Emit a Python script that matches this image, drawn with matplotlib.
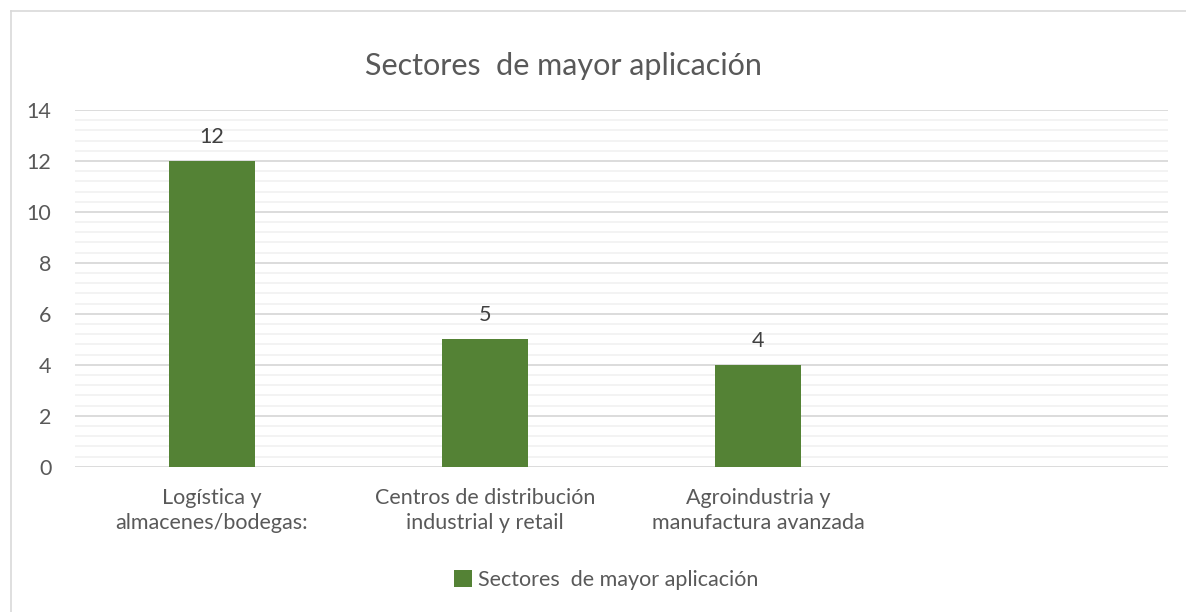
import matplotlib
matplotlib.use("Agg")
import matplotlib.pyplot as plt
from matplotlib.lines import Line2D
from matplotlib.patches import Patch
import numpy as np

categories = ["Logística y\nalmacenes/bodegas:", "Centros de distribución\nindustrial y retail",
              "Agroindustria y\nmanufactura avanzada", ""]
values = [12, 5, 4, None]
series_name = "Sectores  de mayor aplicación"
title = "Sectores  de mayor aplicación"
y_ticks = [0, 2, 4, 6, 8, 10, 12, 14]

BAR = "#548235"
TXT = "#595959"
FONT = "Lato"
FS = 15.5

plt.rcParams['font.family'] = [FONT, 'DejaVu Sans']

W, H = 1186, 612
fig = plt.figure(figsize=(W / 100, H / 100), dpi=100)
fig.patch.set_facecolor("white")

# chart border (top and left visible)
fig.add_artist(Line2D([10.5 / W, 10.5 / W], [0, 1 - 11 / H], transform=fig.transFigure, color="#D9D9D9", lw=1.2))
fig.add_artist(Line2D([10.5 / W, 1], [1 - 11 / H, 1 - 11 / H], transform=fig.transFigure, color="#D9D9D9", lw=1.2))

left, right, top, bottom = 75, 1168, 110, 466.7
ax = fig.add_axes([left / W, 1 - bottom / H, (right - left) / W, (bottom - top) / H])

x = np.arange(len(categories))
bar_x = [i for i, v in enumerate(values) if v is not None]
bar_v = [v for v in values if v is not None]
ax.bar(bar_x, bar_v, width=0.315, color=BAR, zorder=3, label=series_name)
for xi, v in zip(bar_x, bar_v):
    ax.annotate(str(v), (xi, v), xytext=(0, 10), textcoords="offset points",
                ha="center", va="bottom", fontsize=FS, color="#404040")

ax.set_xlim(-0.5, len(categories) - 0.5)
ax.set_ylim(0, 14)
ax.set_yticks(y_ticks)
ax.set_yticks(np.arange(0, 14.01, 0.4), minor=True)
ax.grid(axis="y", which="major", color="#D9D9D9", lw=1.3, zorder=0)
ax.grid(axis="y", which="minor", color="#F2F2F2", lw=1.3, zorder=0)
ax.set_xticks(x)
ax.set_xticklabels(categories, fontsize=FS, color=TXT, linespacing=1.35)
ax.tick_params(axis="both", which="both", length=0)
ax.tick_params(axis="x", pad=15)
ax.tick_params(axis="y", pad=17, labelsize=FS, labelcolor=TXT)
for s in ax.spines.values():
    s.set_visible(False)
ax.set_axisbelow(True)

fig.text(563 / W, 1 - 75 / H, title, ha="center", va="baseline", fontsize=22, color=TXT)

fig.legend(handles=[Patch(facecolor=BAR, label=series_name)], loc="center",
           bbox_to_anchor=(606 / W, 1 - 580 / H), frameon=False, fontsize=FS,
           labelcolor=TXT, handlelength=0.85, handleheight=0.85, handletextpad=0.25)

fig.savefig("out.png", dpi=100)
